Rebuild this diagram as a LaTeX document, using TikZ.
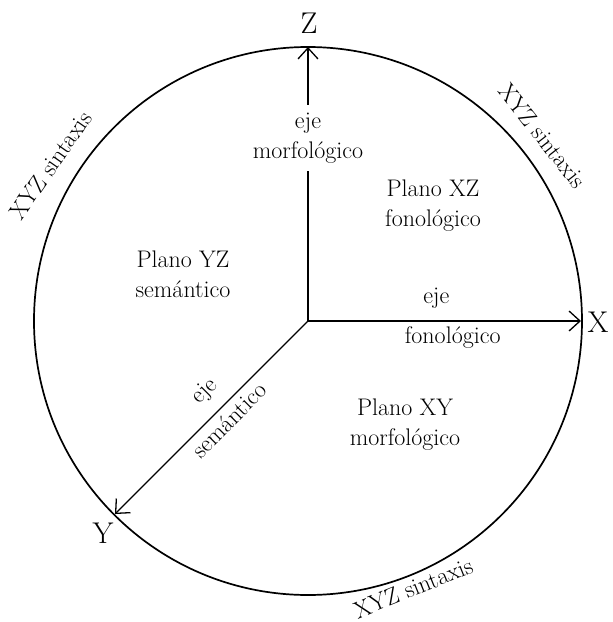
\documentclass[tikz,border=0pt]{standalone}
\usepackage{fontspec}
\usepackage{tikz}
\usetikzlibrary{arrows.meta,positioning}

\begin{document}
\begin{tikzpicture}[
  x=1pt,y=1pt,
  axis/.style={-{Straight Barb[length=11pt,width=20pt]},line width=1.3pt},
  rim/.style={line width=1.7pt},
  txt/.style={font=\fontsize{24}{30}\selectfont,align=center,inner sep=3pt},
  axlbl/.style={font=\fontsize{30}{36}\selectfont,inner sep=0pt},
  sint/.style={font=\fontsize{24}{30}\selectfont,inner sep=0pt}
]
\useasboundingbox (-308,-301) rectangle (305,321);

% centre and rim
\coordinate (o) at (0,0);
\draw[rim] (o) circle (274);
\coordinate (ztip) at (90:274);
\coordinate (xtip) at (0:273);
\coordinate (ytip) at (225:273);

% axis labels
\node[axlbl] (zl) at (1,298) {Z};
\node[axlbl] (xl) at (290,-1) {X};
\node[axlbl] (yl) at (-205,-212) {Y};

% axes
\node[txt,inner ysep=8pt] (morf) at (0,183) {eje\\morfológico};
\draw[line width=1.3pt] (o) -- (morf);
\draw[axis] (morf) -- (ztip);
\draw[axis] (o) -- node[txt,above=9pt,pos=0.47] {eje}
  node[txt,below=2pt,pos=0.53] {fonológico} (xtip);
\draw[axis] (o) -- node[txt,sloped,above=9pt,pos=0.45] {eje}
  node[txt,sloped,below=2pt,pos=0.46] {semántico} (ytip);

% planes
\node[txt] (yz) at (-125,47) {Plano YZ\\semántico};
\node[txt] (xz) at (125,115) {Plano XZ\\fonológico};
\node[txt] (xy) at (97,-104) {Plano XY\\morfológico};

% sintaxis round the rim
\node[sint,rotate=55] (s1) at (148.8:301) {XYZ sintaxis};
\node[sint,rotate=-52] (s2) at (38.3:299) {XYZ sintaxis};
\node[sint,rotate=22] (s3) at (-68.5:287) {XYZ sintaxis};
\end{tikzpicture}
\end{document}
